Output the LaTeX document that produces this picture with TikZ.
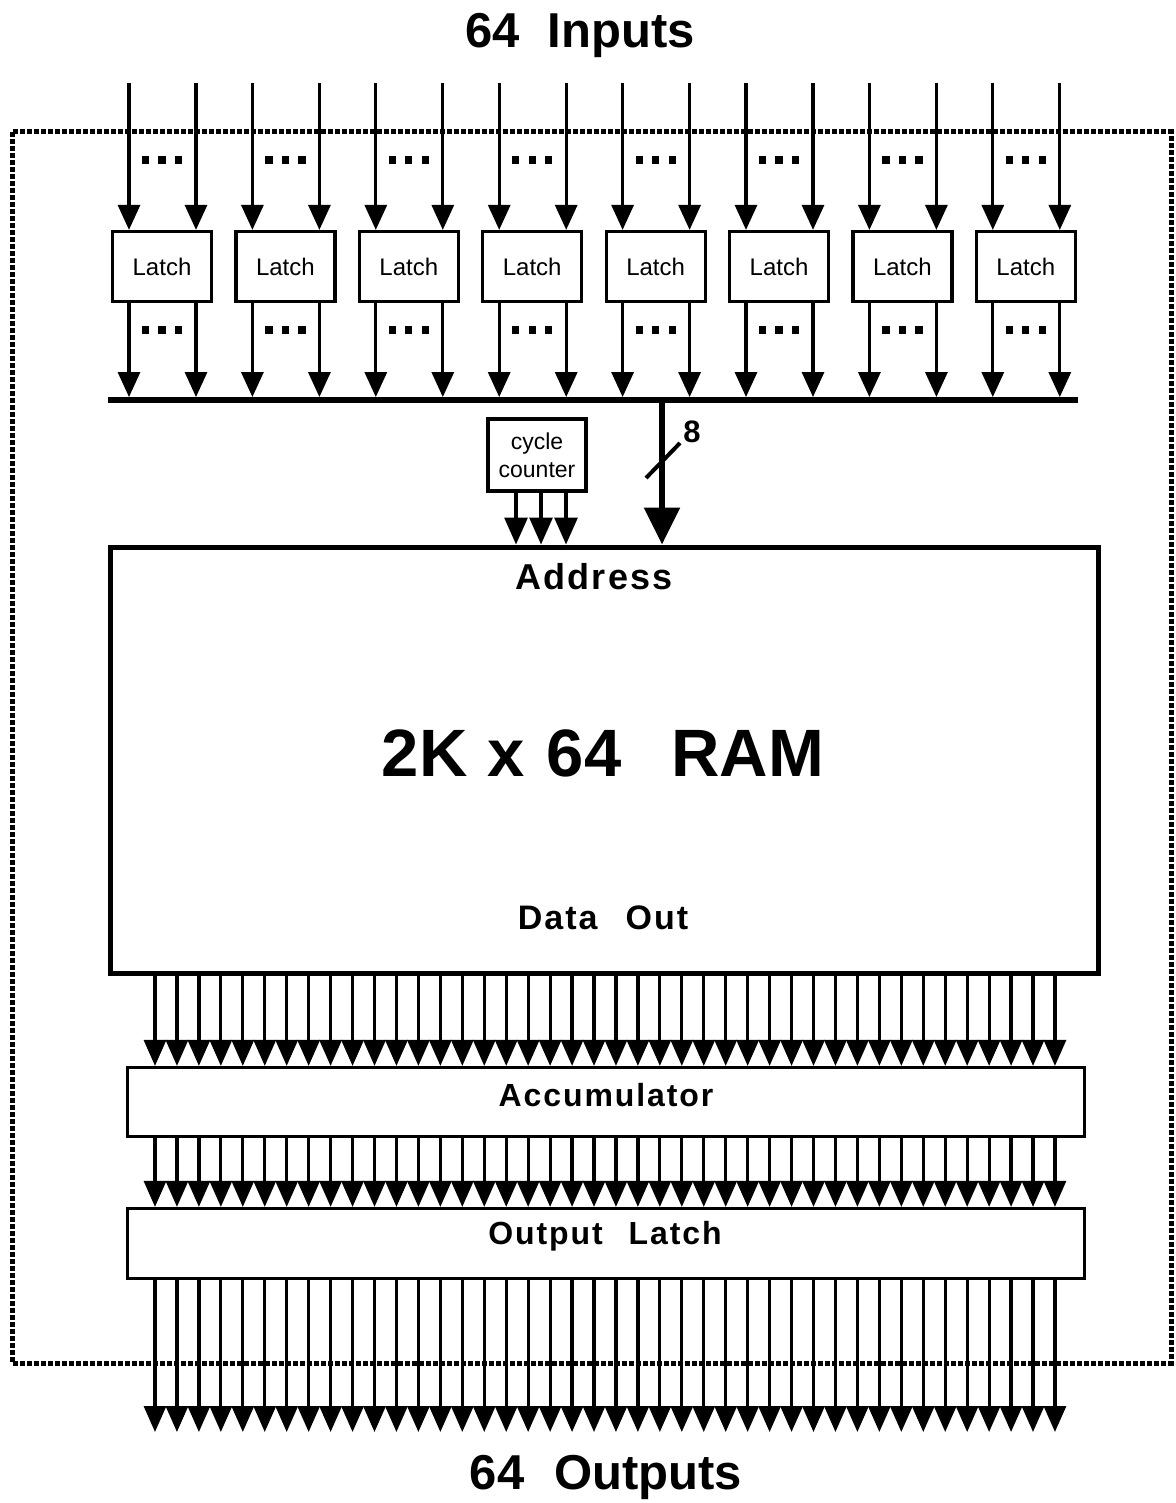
\documentclass[tikz,border=0pt]{standalone}
\usepackage{fontspec}
\setmainfont{Liberation Sans}
\newfontfamily\lblfont[LetterSpace=6]{Liberation Sans}
\usetikzlibrary{arrows.meta}
\newcommand\myfs[1]{\fontsize{#1}{#1}\selectfont}
\begin{document}
\begin{tikzpicture}[x=1pt,y=-1pt,
  box/.style={draw, line width=3.2pt, inner sep=0pt},
  inarrow/.style={line width=3.2pt, -{Triangle[width=22pt,length=25pt]}},
  darrow/.style={line width=3.2pt, -{Triangle[width=22pt,length=26pt]}},
  bigarrow/.style={line width=5.5pt, -{Triangle[width=35pt,length=37pt]}},
  hatch/.style={line width=5pt, dash pattern=on 5pt off 2pt},
  title/.style={font=\myfs{49}\bfseries, inner sep=0pt},
  lbl/.style={font=\lblfont\myfs{32}\bfseries, inner sep=0pt},
]
\useasboundingbox (0,0) rectangle (1175,1503);

% outer hatched border
\draw[hatch] (12,132) rectangle (1171,1363);

% titles
\node[title] (tin) at (580,35) {64\hspace{28pt}Inputs};
\node[title] (tout) at (606,1477) {64\hspace{30pt}Outputs};

% bus
\node[fill, draw=none, inner sep=0pt, minimum width=970pt, minimum height=5.5pt] (bus) at (593,400) {};

% latches
\foreach \i in {0,...,7} {
  \pgfmathsetmacro\lx{162+123.4*\i}
  \pgfmathsetmacro\xa{129+123.4*\i}
  \pgfmathsetmacro\xb{196+123.4*\i}
  \node[box, minimum width=99pt, minimum height=70pt, font=\myfs{24}] (L\i) at (\lx,266.5) {Latch};
  \coordinate (ia\i) at (\xa,83);
  \coordinate (ib\i) at (\xb,83);
  \draw[inarrow] (ia\i) -- (ia\i |- L\i.north);
  \draw[inarrow] (ib\i) -- (ib\i |- L\i.north);
  \draw[inarrow] (L\i.south -| ia\i) -- (bus.north -| ia\i);
  \draw[inarrow] (L\i.south -| ib\i) -- (bus.north -| ib\i);
  \foreach \d in {-16.5,0,16.5} {
    \fill (\lx+\d-3.6,156.4) rectangle +(7.2,7.2);
    \fill (\lx+\d-3.6,326.4) rectangle +(7.2,7.2);
  }
}

% RAM
\node[draw, line width=5pt, minimum width=988pt, minimum height=426pt, inner sep=0pt] (ram) at (604,760) {};
\node[lbl, font=\lblfont\myfs{36}\bfseries] (addr) at (594,577) {Address};
\node[inner sep=0pt, font=\myfs{67}\bfseries] (ramlbl) at (603,753) {2K\hspace{20pt}x\hspace{22pt}64\hspace{50pt}RAM};
\node[lbl, font=\lblfont\myfs{34}\bfseries] (dout) at (603,918) {Data\hspace{28pt}Out};

% cycle counter
\node[box, minimum width=98pt, minimum height=72pt, align=center, font=\myfs{23}] (cc) at (537,455) {cycle\\[5pt]counter};
\foreach \x [count=\k] in {516,541,566} {
  \coordinate (cx\k) at (\x,455);
  \draw[line width=3.2pt, -{Triangle[width=23pt,length=27pt]}] (cc.south -| cx\k) -- (cx\k |- ram.north);
}

% 8-bit address bus
\coordinate (bx) at (662,400);
\draw[bigarrow] (bus.south -| bx) -- (bx |- ram.north);
\draw[line width=4pt] (646,478) -- (680,443);
\node[inner sep=0pt, font=\myfs{31}\bfseries] (n8) at (692,432) {8};

% accumulator and output latch
\node[box, minimum width=957pt, minimum height=69pt] (acc) at (606,1102) {};
\node[lbl] (acclbl) at (606,1095) {Accumulator};
\node[box, minimum width=957pt, minimum height=70pt] (ol) at (606,1243.5) {};
\node[lbl] (ollbl) at (605,1236) {Output\hspace{26pt}Latch};

% 42 data lines
\foreach \i in {0,...,41} {
  \pgfmathsetmacro\dx{155+21.95*\i}
  \coordinate (d\i) at (\dx,1432);
  \draw[darrow] (ram.south -| d\i) -- (acc.north -| d\i);
  \draw[darrow] (acc.south -| d\i) -- (ol.north -| d\i);
  \draw[darrow] (ol.south -| d\i) -- (d\i);
}
\end{tikzpicture}
\end{document}
